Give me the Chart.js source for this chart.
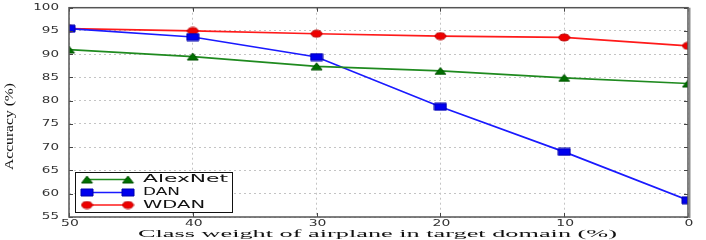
<!DOCTYPE html>
<html>
<head>
<meta charset="utf-8">
<title>Class weight vs accuracy</title>
<script src="https://cdn.jsdelivr.net/npm/chart.js@4.4.1/dist/chart.umd.min.js"></script>
<style>
  html, body { margin: 0; padding: 0; background: #ffffff; }
  #wrap { width: 706px; height: 240px; }
</style>
</head>
<body>
<div id="wrap"><canvas id="accChart" width="706" height="240"></canvas></div>
<script>
// Class weight of airplane in target domain (%)
const classWeights = [50, 40, 30, 20, 10, 0];

// Accuracy (%) per method
const alexnetAcc = [91.0, 89.5, 87.4, 86.4, 84.9, 83.7];
const danAcc = [95.5, 93.7, 89.4, 78.7, 69.0, 58.6];
const wdanAcc = [95.5, 95.0, 94.4, 93.9, 93.6, 91.8];

const seriesNames = ['AlexNet', 'DAN', 'WDAN'];

// Tick labels
const xTickLabels = ['50', '40', '30', '20', '10', '0'];
const yTickLabels = ['55', '60', '65', '70', '75', '80', '85', '90', '95', '100'];

const xTitle = 'Class weight of airplane in target domain (%)';
const yTitle = 'Accuracy (%)';

// Small canvases used as point markers (matplotlib markers look stretched in the picture)
function makeMarker(shape, w, h, fill, stroke) {
    const c = document.createElement('canvas');
    c.width = w + 2;
    c.height = h + 2;
    const g = c.getContext('2d');
    g.fillStyle = fill;
    g.strokeStyle = stroke;
    g.lineWidth = 1;
    g.beginPath();
    if (shape === 'triangle') {
        g.moveTo(1 + w / 2, 1);
        g.lineTo(1 + w, 1 + h);
        g.lineTo(1, 1 + h);
        g.closePath();
    } else if (shape === 'rect') {
        g.rect(1, 1, w, h);
    } else {
        g.ellipse(1 + w / 2, 1 + h / 2, w / 2, h / 2, 0, 0, Math.PI * 2);
    }
    g.fill();
    g.stroke();
    return c;
}

const markerTri = makeMarker('triangle', 11, 7, '#007000', '#005000');
const markerSq = makeMarker('rect', 12, 7, '#0000ee', '#0000aa');
const markerCirc = makeMarker('circle', 11, 7, '#ee0000', '#bb0000');

const lineColors = ['#1f8a1f', '#1a1aff', '#ff1a1a'];
const markers = [markerTri, markerSq, markerCirc];
const seriesValues = [alexnetAcc, danAcc, wdanAcc];

// Draw text squeezed/stretched to a target width
function fitText(ctx, text, x, y, width, font, baseline, angle) {
    ctx.save();
    ctx.font = font;
    ctx.textBaseline = baseline || 'middle';
    ctx.textAlign = 'center';
    const m = ctx.measureText(text).width;
    ctx.translate(x, y);
    if (angle) ctx.rotate(angle);
    ctx.scale(width / m, 1);
    ctx.fillText(text, 0, 0);
    ctx.restore();
}

function scaledText(ctx, text, x, y, sx, font, align) {
    ctx.save();
    ctx.font = font;
    ctx.textBaseline = 'middle';
    ctx.textAlign = align;
    ctx.translate(x, y);
    ctx.scale(sx, 1);
    ctx.fillText(text, 0, 0);
    ctx.restore();
}

// clip lines and markers to the axes box, like matplotlib does
const clipPlugin = {
    id: 'clipBox',
    beforeDatasetsDraw(chart) {
        const a = chart.chartArea;
        chart.ctx.save();
        chart.ctx.beginPath();
        chart.ctx.rect(a.left, a.top, a.right - a.left, a.bottom - a.top);
        chart.ctx.clip();
    },
    afterDatasetsDraw(chart) {
        chart.ctx.restore();
    }
};

const decorPlugin = {
    id: 'decor',
    afterDraw(chart) {
        const ctx = chart.ctx;
        const area = chart.chartArea;
        const xs = chart.scales.x;
        const ys = chart.scales.y;

        // inward tick marks on all four sides
        ctx.save();
        ctx.strokeStyle = '#444';
        ctx.lineWidth = 1;
        ctx.beginPath();
        xTickLabels.forEach(t => {
            const px = Math.round(xs.getPixelForValue(Number(t))) + 0.5;
            ctx.moveTo(px, area.bottom); ctx.lineTo(px, area.bottom - 4);
            ctx.moveTo(px, area.top); ctx.lineTo(px, area.top + 4);
        });
        yTickLabels.forEach(t => {
            const py = Math.round(ys.getPixelForValue(Number(t))) + 0.5;
            ctx.moveTo(area.left, py); ctx.lineTo(area.left + 4, py);
            ctx.moveTo(area.right, py); ctx.lineTo(area.right - 4, py);
        });
        ctx.stroke();

        // frame
        ctx.strokeStyle = '#555';
        ctx.lineWidth = 1.5;
        ctx.strokeRect(area.left, area.top, area.right - area.left, area.bottom - area.top);
        ctx.strokeStyle = '#8a8a8a';
        ctx.lineWidth = 2;
        ctx.beginPath();
        ctx.moveTo(area.right + 1.5, area.top);
        ctx.lineTo(area.right + 1.5, area.bottom + 1);
        ctx.stroke();
        ctx.restore();

        // tick labels
        ctx.fillStyle = '#333';
        yTickLabels.forEach(t => {
            const py = ys.getPixelForValue(Number(t));
            scaledText(ctx, t, area.left - 10, py, 1.5, '9px "DejaVu Sans"', 'right');
        });
        xTickLabels.forEach(t => {
            const px = xs.getPixelForValue(Number(t));
            scaledText(ctx, t, px + 1, area.bottom + 6.5, 1.55, '9px "DejaVu Sans"', 'center');
        });

        // axis titles
        ctx.fillStyle = '#111';
        fitText(ctx, xTitle, 377.5, 237, 479, '11px "Liberation Serif"', 'alphabetic');
        fitText(ctx, yTitle, 12.5, 126.5, 87, '13px "Liberation Serif"', 'alphabetic', -Math.PI / 2);

        // legend inside the plot, lower left
        const lx = 75.5, ly = 172.5, lw = 157, lh = 40;
        ctx.save();
        ctx.fillStyle = '#ffffff';
        ctx.fillRect(lx, ly, lw, lh);
        ctx.strokeStyle = '#111';
        ctx.lineWidth = 1;
        ctx.strokeRect(lx, ly, lw, lh);
        const rowY = [179.5, 192.5, 205];
        const textW = [85, 37, 62];
        seriesNames.forEach((name, i) => {
            const y = rowY[i];
            ctx.strokeStyle = lineColors[i];
            ctx.lineWidth = 1.6;
            ctx.beginPath();
            ctx.moveTo(87, y);
            ctx.lineTo(128, y);
            ctx.stroke();
            const mk = markers[i];
            ctx.drawImage(mk, 87 - mk.width / 2, y - mk.height / 2);
            ctx.drawImage(mk, 128 - mk.width / 2, y - mk.height / 2);
            ctx.fillStyle = '#111';
            ctx.font = '10px "DejaVu Sans"';
            const m = ctx.measureText(name).width;
            ctx.save();
            ctx.textBaseline = 'middle';
            ctx.textAlign = 'left';
            ctx.translate(143, y);
            ctx.scale(textW[i] / m, 1);
            ctx.fillText(name, 0, 0);
            ctx.restore();
        });
        ctx.restore();
    }
};

const datasets = seriesNames.map((name, i) => ({
    label: name,
    data: classWeights.map((w, k) => ({ x: w, y: seriesValues[i][k] })),
    borderColor: lineColors[i],
    backgroundColor: lineColors[i],
    borderWidth: 1.7,
    pointStyle: markers[i],
    pointRadius: 6,
    tension: 0,
    clip: 0
}));

const chart = new Chart(document.getElementById('accChart'), {
    type: 'line',
    data: { datasets: datasets },
    options: {
        responsive: false,
        animation: false,
        layout: { padding: { left: 0, right: 18, top: 6, bottom: 0 } },
        plugins: {
            legend: { display: false },
            tooltip: { enabled: false },
            title: { display: false }
        },
        scales: {
            x: {
                type: 'linear',
                reverse: true,
                min: 0,
                max: 50,
                ticks: { stepSize: 10, display: false },
                grid: { color: '#c4c4c4', lineWidth: 1, drawTicks: false },
                border: { display: false, dash: [2, 3] },
                afterFit(scale) { scale.height = 23; }
            },
            y: {
                min: 55,
                max: 100,
                ticks: { stepSize: 5, display: false },
                grid: { color: '#c4c4c4', lineWidth: 1, drawTicks: false },
                border: { display: false, dash: [2, 3] },
                afterFit(scale) { scale.width = 69; }
            }
        }
    },
    plugins: [clipPlugin, decorPlugin]
});
</script>
</body>
</html>
